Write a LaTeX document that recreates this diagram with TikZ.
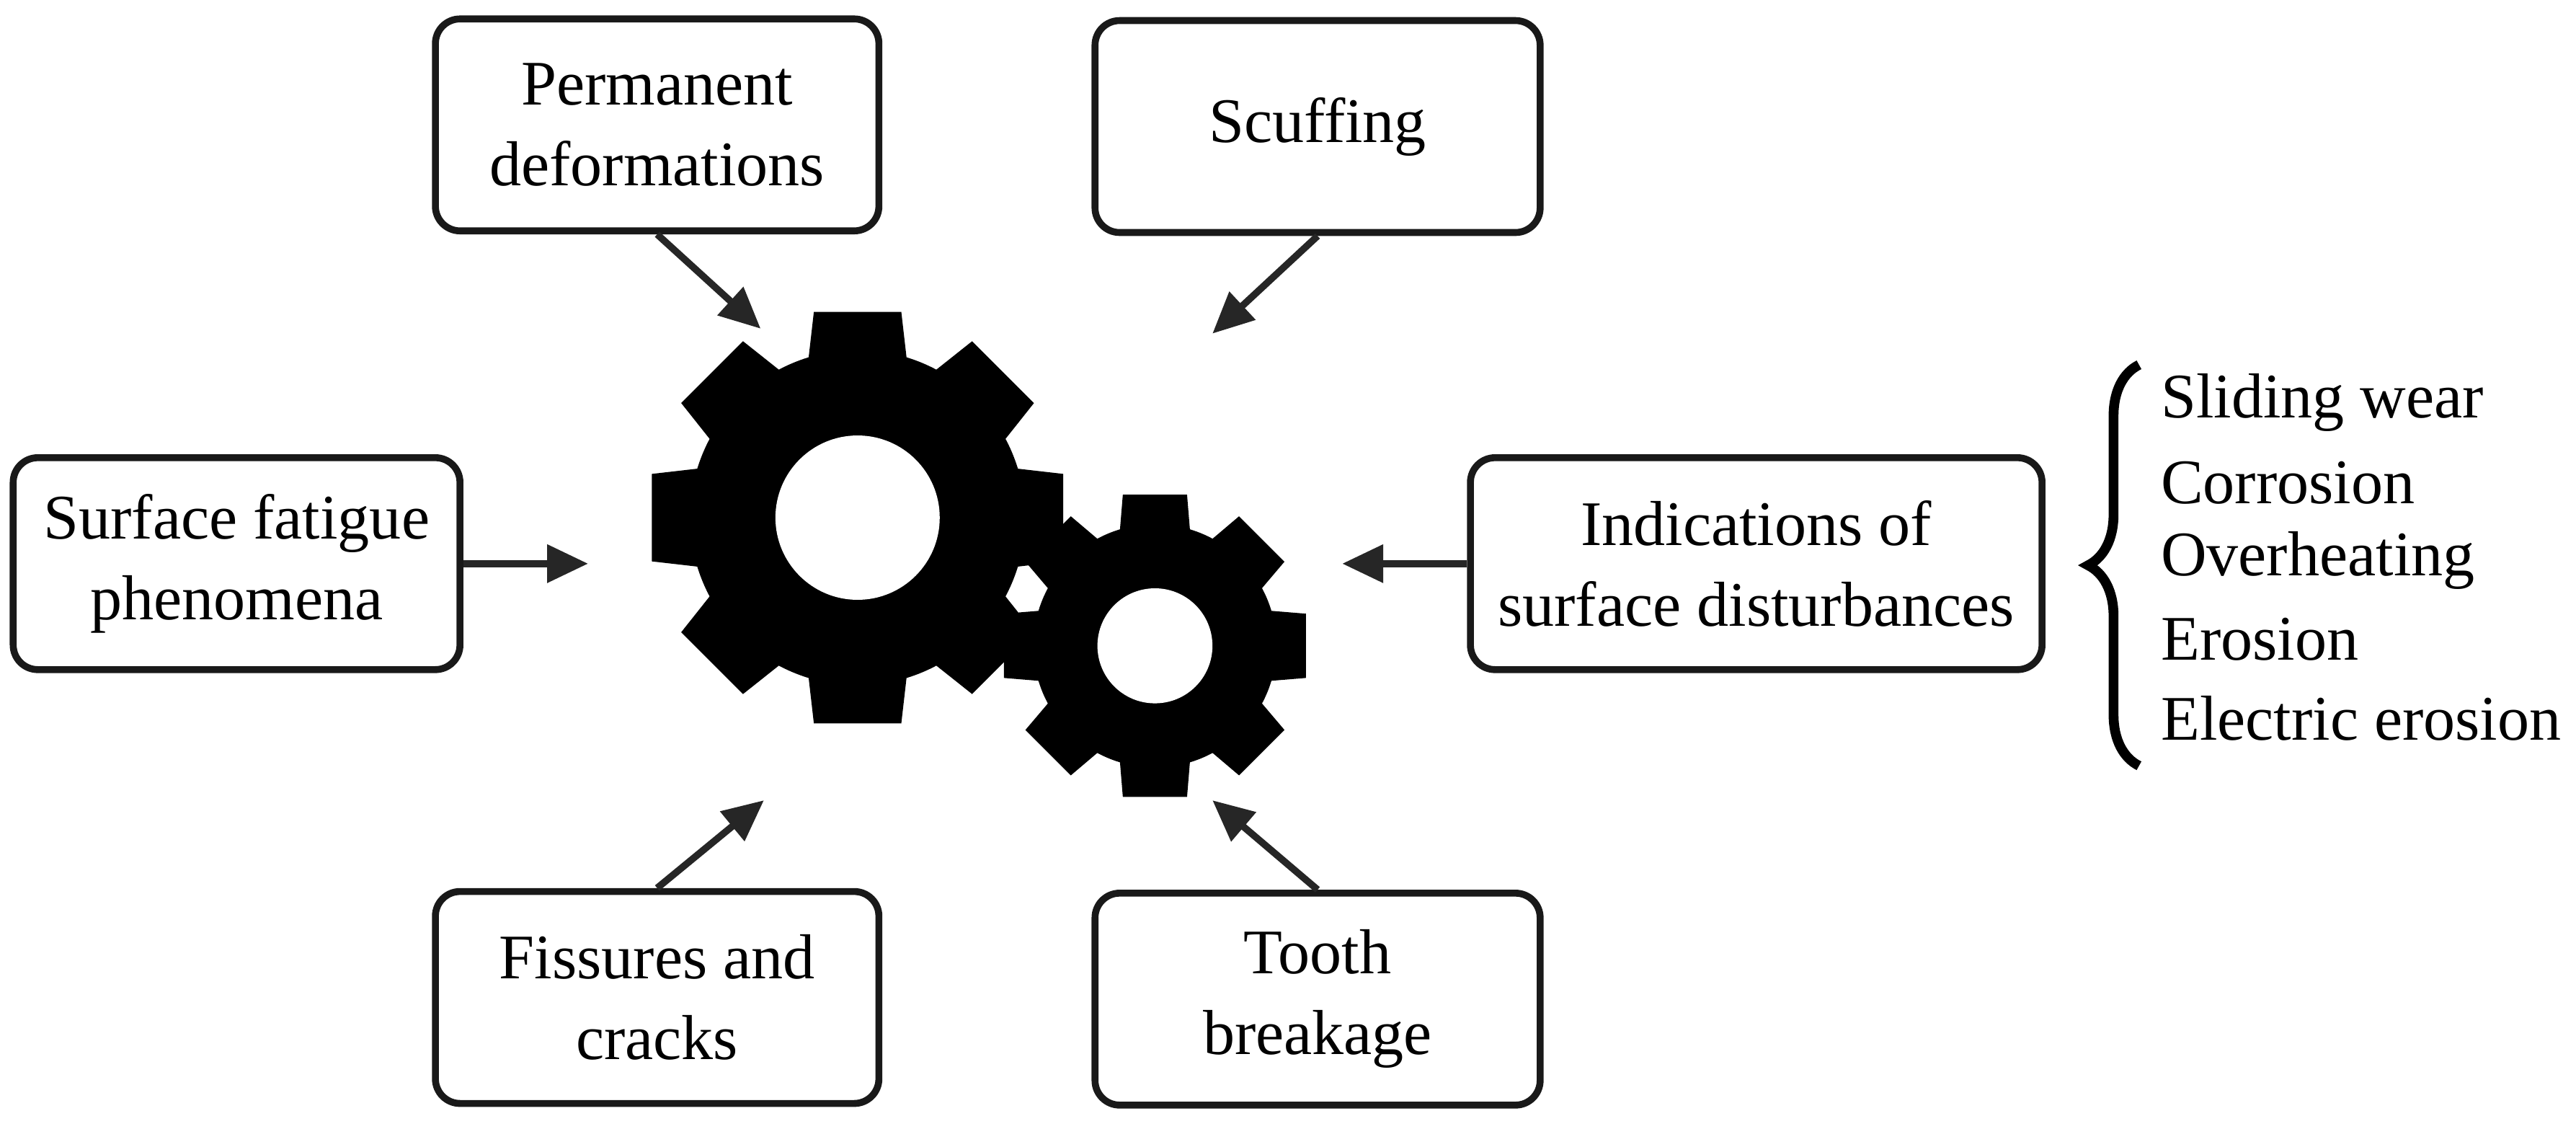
\documentclass[tikz,border=0pt]{standalone}
\usepackage{fontspec}
\setmainfont{Liberation Serif}
\usetikzlibrary{arrows.meta,decorations.pathreplacing,calc}
\begin{document}
\begin{tikzpicture}[x=0.02cm,y=-0.02cm,
  box/.style={draw=black!90,line width=2.4pt,rounded corners=0.3cm,align=center,minimum height=2.58cm,inner sep=0pt,font=\fontsize{22}{28}\selectfont},
  arr/.style={line width=2.4pt,draw=black!85,-{Triangle[length=0.5cm,width=0.45cm]}},
  lst/.style={anchor=west,inner sep=0pt,font=\fontsize{22}{28}\selectfont}]
\useasboundingbox (0,0) rectangle (1568,687);
\node[box,minimum width=5.4cm] (pd) at (400,76) {Permanent\\deformations};
\node[box,minimum width=5.42cm] (sc) at (802,77) {Scuffing};
\node[box,minimum width=5.44cm] (sf) at (144,343) {Surface fatigue\\phenomena};
\node[box,minimum width=6.96cm] (ind) at (1069,343) {Indications of\\surface disturbances};
\node[box,minimum width=5.4cm] (fi) at (400,607) {Fissures and\\cracks};
\node[box,minimum width=5.42cm] (tb) at (802,608) {Tooth\\breakage};
% gears
\def\gear#1#2#3#4{%
  \begin{scope}[shift={#1}]
  \fill[black] (0,0) circle[radius=#3];
  \foreach \a in {0,45,...,315}{
    \fill[black] (\a-18:#3-4) -- (\a-12:#2) -- (\a+12:#2) -- (\a+18:#3-4) -- cycle;}
  \fill[white] (0,0) circle[radius=#4];
  \end{scope}}
\gear{(522,315)}{128}{102}{50}
\gear{(703,393)}{94}{74}{35}
\coordinate (t1) at (463,200);
\coordinate (t2) at (738,203);
\coordinate (t3) at (358,343);
\coordinate (t4) at (817,343);
\coordinate (t5) at (465,487);
\coordinate (t6) at (738,487);
\draw[arr] (pd.south) -- (t1);
\draw[arr] (sc.south) -- (t2);
\draw[arr] (sf.east) -- (t3);
\draw[arr] (ind.west) -- (t4);
\draw[arr] (fi.north) -- (t5);
\draw[arr] (tb.north) -- (t6);
% brace
\coordinate (b1) at (1302,222);
\coordinate (b2) at (1302,466);
\draw[line width=3.4pt,decorate,decoration={brace,amplitude=0.62cm}] (b2) -- (b1);
\node[lst] (l1) at (1315,245) {Sliding wear};
\node[lst] (l2) at (1315,294) {Corrosion};
\node[lst] (l3) at (1315,341) {Overheating};
\node[lst] (l4) at (1315,389) {Erosion};
\node[lst] (l5) at (1315,437) {Electric erosion};
\end{tikzpicture}
\end{document}
